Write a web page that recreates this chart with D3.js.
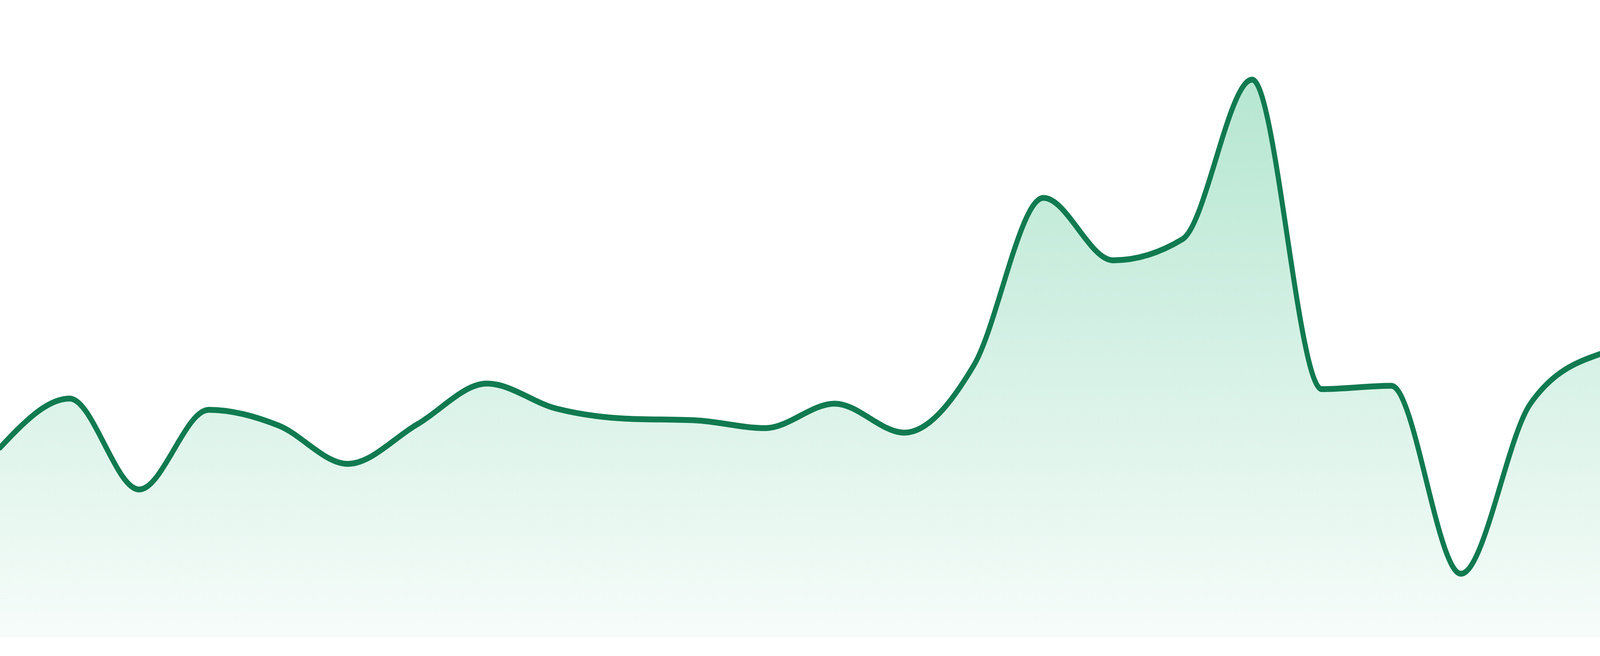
<!DOCTYPE html>
<html>
<head>
<meta charset="utf-8">
<script src="https://cdn.jsdelivr.net/npm/d3@7"></script>
<style>
  html, body { margin: 0; padding: 0; background: #fff; width: 100%; height: 100%; overflow: hidden; }
  #chart { width: 100vw; height: 100vh; }
  svg { display: block; width: 100%; height: 100%; }
</style>
</head>
<body>
<div id="chart"></div>
<script>
// ---------- data ----------
const categories = ['1', '2', '3', '4', '5', '6', '7', '8', '9', '10', '11', '12',
  '13', '14', '15', '16', '17', '18', '19', '20', '21', '22', '23', '24'];
const values = [34.0, 42.8, 26.5, 40.8, 38.0, 31.1, 38.2, 45.5, 41.0, 39.2, 38.9, 37.5,
  41.9, 36.7, 48.8, 78.8, 67.6, 71.4, 100, 44.5, 45.1, 11.4, 41.9, 50.8];
const yDomain = [0, 100];

// drawing space matches the 4800x1680 picture; the svg is stretched to the window
const width = 4800;
const height = 1680;
const margin = { top: 204, right: 0, bottom: 48, left: 0 };

const svg = d3.select('#chart')
  .append('svg')
  .attr('viewBox', `0 0 ${width} ${height}`)
  .attr('preserveAspectRatio', 'none');

const x = d3.scalePoint()
  .domain(categories)
  .range([margin.left, width - margin.right]);

const y = d3.scaleLinear()
  .domain(yDomain)
  .range([height - margin.bottom, margin.top]);

const data = categories.map((c, i) => ({ c, v: values[i] }));

// ---------- gradient fill ----------
const defs = svg.append('defs');
const grad = defs.append('linearGradient')
  .attr('id', 'fillGrad')
  .attr('gradientUnits', 'userSpaceOnUse')
  .attr('x1', 0).attr('x2', 0)
  .attr('y1', y(yDomain[1])).attr('y2', y(0));
grad.append('stop').attr('offset', '0%')
  .attr('stop-color', '#2cb87c').attr('stop-opacity', 0.35);
grad.append('stop').attr('offset', '100%')
  .attr('stop-color', '#2cb87c').attr('stop-opacity', 0.04);

const area = d3.area()
  .x(d => x(d.c))
  .y0(y(0))
  .y1(d => y(d.v))
  .curve(d3.curveMonotoneX);

const line = d3.line()
  .x(d => x(d.c))
  .y(d => y(d.v))
  .curve(d3.curveMonotoneX);

svg.append('path')
  .datum(data)
  .attr('fill', 'url(#fillGrad)')
  .attr('d', area);

svg.append('path')
  .datum(data)
  .attr('fill', 'none')
  .attr('stroke', '#107a50')
  .attr('stroke-width', 15)
  .attr('stroke-linejoin', 'round')
  .attr('stroke-linecap', 'round')
  .attr('d', line);
</script>
</body>
</html>
